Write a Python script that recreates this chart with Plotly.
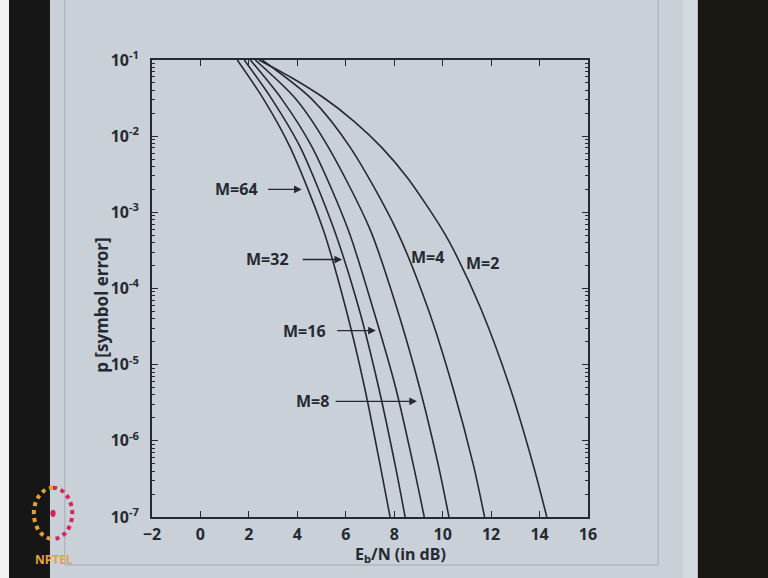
import math
import plotly.graph_objects as go

# ---- data ----
P_LEVELS = [1e-1, 3.09e-2, 7.08e-3, 5.89e-4, 5.50e-5, 5.13e-6, 4.79e-7, 1e-7]
P_M2 = [1e-1, 5.9e-2, 3.24e-2, 1.58e-2, 7.08e-3, 2.8e-3, 5.89e-4, 2.75e-4, 5.50e-5,
        5.13e-6, 4.79e-7, 1e-7]
EBN0_M2 = [2.41, 3.75, 5.06, 6.33, 7.49, 8.56, 9.99, 10.56, 11.57, 12.77, 13.74, 14.30]
EBN0_M4 = [2.55, 4.59, 6.19, 8.09, 9.39, 10.41, 11.27, 11.73]
EBN0_M8 = [2.26, 3.93, 5.29, 7.01, 8.11, 9.04, 9.82, 10.26]
EBN0_M16 = [2.06, 3.35, 4.62, 6.10, 7.12, 8.05, 8.79, 9.24]
EBN0_M32 = [1.81, 2.94, 4.13, 5.52, 6.54, 7.35, 8.04, 8.45]
EBN0_M64 = [1.52, 2.60, 3.71, 5.07, 6.00, 6.77, 7.42, 7.83]

X_TICKS = [-2, 0, 2, 4, 6, 8, 10, 12, 14, 16]
Y_TICKS = [1e-1, 1e-2, 1e-3, 1e-4, 1e-5, 1e-6, 1e-7]
Y_TICKTEXT = ["10<sup>-1</sup>", "10<sup>-2</sup>", "10<sup>-3</sup>", "10<sup>-4</sup>",
              "10<sup>-5</sup>", "10<sup>-6</sup>", "10<sup>-7</sup>"]

# labels: (text, x, P) and arrows: (text, text_x, text_P, tail_x, head_x, P)
CURVE_LABELS = [("M=4", 9.36, 2.63e-4), ("M=2", 11.64, 2.19e-4)]
ARROW_LABELS = [
    ("M=64", 1.49, 2.0e-3, 2.73, 4.18, 2.0e-3),
    ("M=32", 2.75, 2.45e-4, 4.16, 5.85, 2.4e-4),
    ("M=16", 4.30, 2.8e-5, 5.58, 7.24, 2.8e-5),
    ("M=8", 4.61, 3.3e-6, 5.52, 8.94, 3.3e-6),
]

INK = "#252a32"
PAPER = "#c9d0d8"
FONT = "Noto Sans"

fig = go.Figure()
for name, xs, ps in [("M=2", EBN0_M2, P_M2), ("M=4", EBN0_M4, P_LEVELS),
                     ("M=8", EBN0_M8, P_LEVELS), ("M=16", EBN0_M16, P_LEVELS),
                     ("M=32", EBN0_M32, P_LEVELS), ("M=64", EBN0_M64, P_LEVELS)]:
    fig.add_trace(go.Scatter(x=xs, y=ps, mode="lines", name=name, hoverinfo="skip",
                             line=dict(color=INK, width=1.6, shape="spline", smoothing=0.8),
                             showlegend=False))

# on a log axis, annotation positions are given as log10 of the value
annotations = []
for text, x, p in CURVE_LABELS:
    annotations.append(dict(x=x, y=math.log10(p), xref="x", yref="y", text=text,
                            showarrow=False, xanchor="center", yanchor="middle",
                            font=dict(family=FONT, size=16, color=INK, weight="bold")))
for text, tx, tp, x0, x1, p in ARROW_LABELS:
    annotations.append(dict(x=tx, y=math.log10(tp), xref="x", yref="y", text=text,
                            showarrow=False, xanchor="center", yanchor="middle",
                            font=dict(family=FONT, size=16, color=INK, weight="bold")))
    annotations.append(dict(x=x1, y=math.log10(p), ax=x0, ay=math.log10(p),
                            xref="x", yref="y", axref="x", ayref="y",
                            text="", showarrow=True, arrowhead=2, arrowsize=1.1,
                            arrowwidth=1.4, arrowcolor=INK))

# axis titles (placed like the hand-written ones)
annotations.append(dict(x=0.569, y=-0.083, xref="paper", yref="paper",
                        xanchor="center", yanchor="middle",
                        text="E<sub>b</sub>/N (in dB)", showarrow=False,
                        font=dict(family=FONT, size=16, color=INK, weight="bold")))
annotations.append(dict(x=-0.115, y=0.464, xref="paper", yref="paper",
                        xanchor="center", yanchor="middle",
                        text="p [symbol error]", textangle=-90, showarrow=False,
                        font=dict(family=FONT, size=17, color=INK, weight="bold")))
annotations.append(dict(x=-0.225, y=-0.094, xref="paper", yref="paper",
                        xanchor="center", yanchor="middle",
                        text="<b>NPTEL</b>", showarrow=False,
                        font=dict(family=FONT, size=12, color="#e6a437")))

# logo ring halves (cubic approximations of half ellipses)
cx, cy, rx, ry, k = -0.227, 0.008, 0.044, 0.056, 0.5523
left_half = (f"M {cx},{cy+ry} C {cx-k*rx},{cy+ry} {cx-rx},{cy+k*ry} {cx-rx},{cy} "
             f"C {cx-rx},{cy-k*ry} {cx-k*rx},{cy-ry} {cx},{cy-ry}")
right_half = (f"M {cx},{cy+ry} C {cx+k*rx},{cy+ry} {cx+rx},{cy+k*ry} {cx+rx},{cy} "
              f"C {cx+rx},{cy-k*ry} {cx+k*rx},{cy-ry} {cx},{cy-ry}")

shapes = [
    # white edge + dark strips of the photo
    dict(type="rect", xref="paper", yref="paper", x0=-0.40, x1=-0.328, y0=-0.2, y1=1.2,
         fillcolor="#f2f2f2", line=dict(width=0), layer="below"),
    dict(type="rect", xref="paper", yref="paper", x0=-0.328, x1=-0.234, y0=-0.2, y1=1.2,
         fillcolor="#161616", line=dict(width=0), layer="below"),
    dict(type="rect", xref="paper", yref="paper", x0=1.218, x1=1.252, y0=-0.2, y1=1.2,
         fillcolor="#d5dae0", line=dict(width=0), layer="below"),
    dict(type="rect", xref="paper", yref="paper", x0=1.252, x1=1.5, y0=-0.2, y1=1.2,
         fillcolor="#1b1713", line=dict(width=0), layer="below"),
    # faint paper frame lines
    dict(type="line", xref="paper", yref="paper", x0=-0.20, x1=-0.20, y0=-0.105, y1=1.2,
         line=dict(color="#a3acb6", width=1), layer="below"),
    dict(type="line", xref="paper", yref="paper", x0=1.161, x1=1.161, y0=-0.105, y1=1.2,
         line=dict(color="#a3acb6", width=1), layer="below"),
    dict(type="line", xref="paper", yref="paper", x0=-0.20, x1=1.161, y0=-0.105, y1=-0.105,
         line=dict(color="#a3acb6", width=1), layer="below"),
    # logo
    dict(type="path", xref="paper", yref="paper", path=left_half,
         line=dict(color="#e3a13a", width=4, dash="dot")),
    dict(type="path", xref="paper", yref="paper", path=right_half,
         line=dict(color="#d8245e", width=4, dash="dot")),
    dict(type="circle", xref="paper", yref="paper", x0=cx - 0.006, x1=cx + 0.006,
         y0=cy - 0.008, y1=cy + 0.008, fillcolor="#d8245e", line=dict(width=0)),
]

fig.update_layout(
    width=768, height=578,
    margin=dict(l=152, r=180, t=60, b=61),
    paper_bgcolor=PAPER, plot_bgcolor=PAPER,
    annotations=annotations, shapes=shapes,
    font=dict(family=FONT, color=INK),
    hovermode=False,
)
fig.update_xaxes(range=[-2, 16], tickvals=X_TICKS, ticks="inside", ticklen=6,
                 tickwidth=1.2, tickcolor=INK, showline=True, linecolor=INK, linewidth=1.6,
                 mirror="ticks", showgrid=False, zeroline=False, ticklabelstandoff=2,
                 tickfont=dict(family=FONT, size=16, color=INK, weight="bold"))
fig.update_yaxes(type="log", range=[-7, -1], tickvals=Y_TICKS, ticktext=Y_TICKTEXT,
                 ticks="inside", ticklen=6, tickwidth=1.2, tickcolor=INK,
                 minor=dict(ticks="inside", ticklen=3, dtick="D1", tickcolor=INK, showgrid=False),
                 showline=True, linecolor=INK, linewidth=1.6, mirror="ticks",
                 showgrid=False, zeroline=False, ticklabelstandoff=8,
                 tickfont=dict(family=FONT, size=16, color=INK, weight="bold"))

fig.write_html("out.html", config={"displayModeBar": False},
               post_script="document.body.style.margin='0';document.body.style.background='#c9d0d8';")
